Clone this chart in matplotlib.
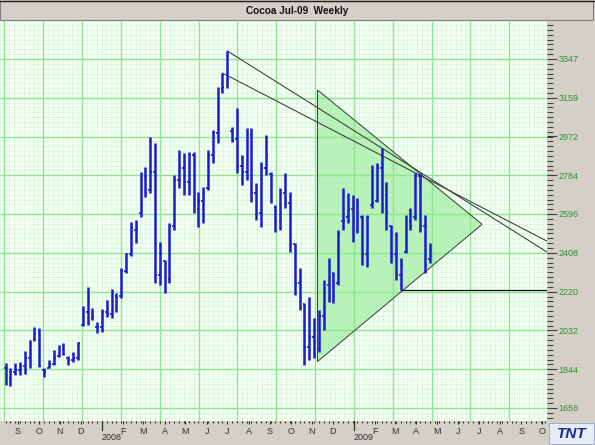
import matplotlib
matplotlib.use("Agg")
import matplotlib.pyplot as plt
import matplotlib.dates as mdates
from matplotlib.patches import Rectangle, Polygon
from matplotlib.lines import Line2D
from matplotlib.transforms import blended_transform_factory
from datetime import date, timedelta
import numpy as np

plt.rcParams['font.family'] = ['Liberation Sans', 'DejaVu Sans']

title = "Cocoa Jul-09  Weekly"
first_week = date(2007, 8, 14)

highs = [1876, 1850, 1874, 1879, 1932, 1986, 2049, 2044, 1850, 1889,
         1937, 1960, 1971, 1908, 1928, 1976, 2150, 2242, 2141, 2073,
         2136, 2180, 2233, 2213, 2335, 2407, 2557, 2567, 2800, 2824,
         2969, 2940, 2461, 2373, 2553, 2785, 2906, 2892, 2897, 2897,
         2703, 2727, 2906, 3003, 3211, 3279, 3386, 3018, 3110, 2882,
         3013, 3013, 2746, 2848, 2979, 2800, 2640, 2722, 2795, 2703,
         2456, 2335, 2165, 2194, 2092, 2131, 2276, 2383, 2315, 2519,
         2722, 2698, 2688, 2674, 2591, 2591, 2834, 2843, 2916, 2751,
         2543, 2509, 2383, 2591, 2625, 2795, 2795, 2591, 2456]
lows = [1768, 1763, 1816, 1816, 1821, 1850, 1980, 1855, 1806, 1850,
        1865, 1903, 1913, 1865, 1879, 1889, 2054, 2058, 2083, 2020,
        2025, 2097, 2092, 2121, 2189, 2310, 2393, 2456, 2582, 2679,
        2698, 2262, 2252, 2213, 2262, 2519, 2722, 2688, 2688, 2601,
        2533, 2553, 2712, 2843, 2940, 3182, 3207, 2945, 2795, 2737,
        2761, 2654, 2567, 2533, 2785, 2649, 2509, 2519, 2625, 2412,
        2204, 2131, 1865, 1889, 1898, 1928, 2034, 2170, 2165, 2252,
        2519, 2553, 2461, 2504, 2349, 2339, 2625, 2654, 2601, 2519,
        2359, 2276, 2228, 2407, 2519, 2567, 2509, 2310, 2359]
opens = [1850, 1800, 1830, 1840, 1860, 1900, 1990, 2020, 1840, 1850,
         1870, 1910, 1940, 1900, 1890, 1900, 2060, 2120, 2090, 2050,
         2050, 2120, 2110, 2200, 2200, 2320, 2400, 2520, 2600, 2780,
         2710, 2800, 2300, 2370, 2280, 2540, 2760, 2820, 2750, 2880,
         2620, 2660, 2720, 2880, 2990, 3200, 3220, 3000, 2960, 2830,
         2800, 2980, 2700, 2600, 2820, 2790, 2630, 2560, 2700, 2650,
         2450, 2260, 2160, 1950, 2000, 1940, 2100, 2250, 2310, 2260,
         2560, 2580, 2620, 2520, 2580, 2400, 2640, 2660, 2820, 2690,
         2540, 2400, 2300, 2410, 2560, 2580, 2780, 2540, 2380]
closes = [1800, 1830, 1840, 1860, 1900, 1980, 2020, 1860, 1830, 1870,
          1900, 1940, 1920, 1890, 1900, 1970, 2120, 2080, 2100, 2050,
          2120, 2110, 2210, 2190, 2320, 2400, 2530, 2530, 2780, 2700,
          2800, 2300, 2400, 2280, 2540, 2760, 2820, 2750, 2880, 2620,
          2660, 2700, 2880, 2990, 3200, 3210, 3250, 2950, 2830, 2800,
          2980, 2700, 2600, 2820, 2880, 2680, 2560, 2700, 2650, 2450,
          2260, 2200, 1950, 2000, 1940, 2100, 2250, 2330, 2200, 2500,
          2560, 2620, 2520, 2600, 2400, 2580, 2650, 2820, 2680, 2600,
          2400, 2300, 2350, 2560, 2540, 2780, 2540, 2350, 2420]

y_ticks = [1656, 1844, 2032, 2220, 2408, 2596, 2784, 2972, 3159, 3347]
y_tick_labels = ["1656", "1844", "2032", "2220", "2408", "2596", "2784", "2972", "3159", "3347"]
month_letters = ["J", "F", "M", "A", "M", "J", "J", "A", "S", "O", "N", "D"]
year_labels = [2008, 2009]

# drawing objects (bar index, price)
trend_a = [(45, 3279), (85, 2795)]
trend_b = [(46, 3386), (78, 2916)]
support = (82, 2228)
triangle = [(date(2008, 11, 9), 3197), (date(2009, 7, 6), 2546), (date(2008, 11, 9), 1881)]

# ---------------------------------------------------------------
W, H = 595, 445
fig = plt.figure(figsize=(W / 100, H / 100), dpi=100)
fig.patch.set_facecolor('#d4d0c8')

ax = fig.add_axes([0, 24 / H, 547 / W, 400 / H])
ax.set_facecolor('#f3fff3')
for s in ax.spines.values():
    s.set_visible(False)

d2n = mdates.date2num
dates = [first_week + timedelta(weeks=i) for i in range(len(highs))]
xd = np.array([d2n(d) for d in dates])
jan08 = d2n(date(2008, 1, 1))
x_left, x_right = jan08 - 148.1, jan08 + 646.3
y_bot, y_top = 1593, 3531

# grid
ystep = (y_ticks[-1] - y_ticks[0]) / (len(y_ticks) - 1)
ymin_grid = np.arange(y_ticks[0] - 3 * ystep, y_top + ystep, ystep / 8)
ax.hlines(ymin_grid, x_left, x_right, colors='#c9efc9', lw=0.6, linestyles=(0, (1, 1)), zorder=1)
ymaj_grid = np.arange(y_ticks[0] - ystep, y_top + ystep, ystep)
ax.hlines(ymaj_grid, x_left, x_right, colors='#8fe48f', lw=1.0, zorder=1.2)
anchor = d2n(date(2009, 1, 1))
xstep = 56.4
xmin_grid = anchor + np.arange(-100, 40) * xstep / 8
ax.vlines(xmin_grid, y_bot, y_top, colors='#c9efc9', lw=0.6, linestyles=(0, (1, 1)), zorder=1)
xmaj_grid = anchor + np.arange(-12, 6) * xstep
ax.vlines(xmaj_grid, y_bot, y_top, colors='#8fe48f', lw=1.0, zorder=1.2)

# triangle
tri = Polygon([(d2n(d), v) for d, v in triangle], closed=True,
              facecolor='#b5f2b5', edgecolor='none', zorder=0.8)
ax.add_patch(tri)
tri_e = Polygon([(d2n(d), v) for d, v in triangle], closed=True,
                facecolor='none', edgecolor='#3a3a3a', lw=0.7, zorder=3)
ax.add_patch(tri_e)

# trend lines extended to the right edge
for (i0, p0), (i1, p1) in [trend_a, trend_b]:
    slope = (p1 - p0) / (xd[i1] - xd[i0])
    ax.plot([xd[i0], x_right], [p0, p0 + slope * (x_right - xd[i0])],
            color='#3a3a3a', lw=0.75, zorder=3)
ax.plot([xd[support[0]], x_right], [support[1], support[1]], color='#111111', lw=0.9, zorder=3)

# OHLC bars
bar_c = '#1b1bd0'
ax.vlines(xd, lows, highs, colors=bar_c, lw=1.8, zorder=4)
ax.hlines(opens, xd - 2.6, xd, colors=bar_c, lw=1.2, zorder=4)
ax.hlines(closes, xd, xd + 2.6, colors=bar_c, lw=1.2, zorder=4)

# y axis on right
ax.yaxis.tick_right()
ax.set_yticks(y_ticks)
ax.set_yticklabels(y_tick_labels)
ax.set_yticks(np.arange(y_ticks[0] - ystep, y_top, ystep / 8), minor=True)
ax.tick_params(axis='y', which='major', length=7, width=0.8, color='#404040',
               labelcolor='#2f8f2f', labelsize=6.5, pad=1.5)
ax.tick_params(axis='y', which='minor', length=4, width=0.8, color='#404040')

# x axis months
month_pos, month_lab, jan_pos = [], [], []
for yr in (2007, 2008, 2009):
    for m in range(1, 13):
        n = d2n(date(yr, m, 1))
        if x_left <= n <= x_right:
            if m == 1:
                jan_pos.append(n)
            else:
                month_pos.append(n)
                month_lab.append(month_letters[m - 1])
ax.set_xticks(month_pos)
ax.set_xticklabels(month_lab)
ax.set_xticks(xd.tolist() + [xd[-1] + 7 * k for k in range(1, 30)], minor=True)
ax.tick_params(axis='x', which='major', length=2.5, width=0.8, color='#303030',
               labelcolor='#303030', labelsize=6.5, pad=1.5)
ax.tick_params(axis='x', which='minor', length=1.5, width=0.8, color='#303030')

ax.set_xlim(x_left, x_right)
ax.set_ylim(y_bot, y_top)

trans = blended_transform_factory(ax.transData, ax.transAxes)
for n, yr in zip(jan_pos, year_labels):
    ax.add_line(Line2D([n, n], [0, -0.022], transform=trans, color='#303030', lw=0.9, clip_on=False))
    ax.text(n - 1, -0.03, str(yr), transform=trans, ha='left', va='top',
            fontsize=6.5, color='#303030')

# title strip
fig.add_artist(Rectangle((0, 425 / H), 593 / W, 19 / H, transform=fig.transFigure,
                         facecolor='#d4d0c8', edgecolor='#808080', lw=0.8))
fig.add_artist(Line2D([0, 1], [1 - 0.5 / H, 1 - 0.5 / H], transform=fig.transFigure,
                      color='#202020', lw=1.0))
fig.text(297 / W, 434.5 / H, title, ha='center', va='center', fontsize=7.2,
         fontweight='bold', color='#101010')

# logo
fig.add_artist(Rectangle((549 / W, 1 / H), 45 / W, 21 / H, transform=fig.transFigure,
                         facecolor='#e6ecf7', edgecolor='#9aa4c0', lw=0.6))
fig.text(572 / W, 11.5 / H, "TNT", ha='center', va='center', fontsize=11,
         fontweight='bold', style='italic', color='#1c2a8c')

fig.savefig("out.png", dpi=100, facecolor=fig.get_facecolor())
